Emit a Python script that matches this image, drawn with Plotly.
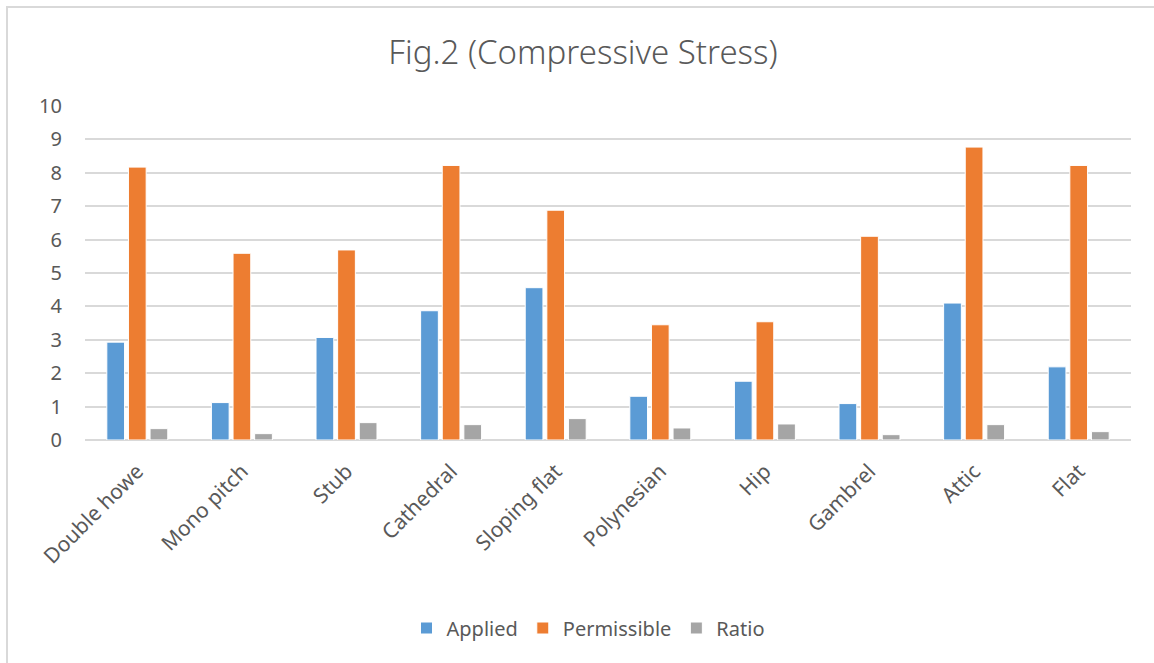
import plotly.graph_objects as go

# Roof truss types and their compressive stress values
categories = ["Double howe", "Mono pitch", "Stub", "Cathedral", "Sloping flat",
              "Polynesian", "Hip", "Gambrel", "Attic", "Flat"]
applied = [2.93, 1.12, 3.07, 3.87, 4.56, 1.31, 1.76, 1.09, 4.10, 2.19]
permissible = [8.17, 5.59, 5.69, 8.22, 6.88, 3.45, 3.54, 6.10, 8.77, 8.22]
ratio = [0.34, 0.19, 0.52, 0.46, 0.64, 0.36, 0.48, 0.16, 0.46, 0.25]
y_ticks = list(range(0, 11))

series = [
    ("Applied", applied, "#5b9bd5"),
    ("Permissible", permissible, "#ed7d31"),
    ("Ratio", ratio, "#a5a5a5"),
]

text_color = "#595959"
font_family = "Noto Sans, Open Sans, sans-serif"

fig = go.Figure()
for name, values, color in series:
    fig.add_trace(go.Bar(
        name=name, x=categories, y=values,
        marker=dict(color=color, line=dict(color="white", width=1)),
    ))

W, H = 1154, 663
ml, mr, mt, mb = 85, 23, 106, 223
pw, ph = W - ml - mr, H - mt - mb

# light outer frame of the chart area
fig.add_shape(
    type="rect", xref="paper", yref="paper",
    x0=(7 - ml) / pw, x1=(W + 10 - ml) / pw,
    y0=-(H + 10 - mt - ph) / ph, y1=(H - 7 - mb) / ph,
    line=dict(color="#d9d9d9", width=2), fillcolor="rgba(0,0,0,0)", layer="below",
)

fig.update_layout(
    width=W, height=H,
    margin=dict(l=ml, r=mr, t=mt, b=mb),
    paper_bgcolor="white", plot_bgcolor="white",
    barmode="group", bargap=0.38, bargroupgap=0.18,
    title=dict(text="Fig.2 (Compressive Stress)", x=(583 - ml) / pw, xref="paper",
               xanchor="center", y=1 - 52 / H, yanchor="middle",
               font=dict(family=font_family, size=33, weight=300, color=text_color)),
    font=dict(family=font_family, size=20, color=text_color),
    legend=dict(orientation="h", x=(588 - ml) / pw, xanchor="center",
                y=-(628 - mt - ph) / ph, yanchor="middle",
                font=dict(size=20, color=text_color), itemwidth=30,
                traceorder="normal"),
    showlegend=True,
)
fig.update_xaxes(
    tickangle=-45, showgrid=False, showline=False, zeroline=False, ticks="",
    ticklabelstandoff=14, tickfont=dict(size=21, color=text_color),
)
fig.update_yaxes(
    range=[0, 10], tickvals=y_ticks, showgrid=True, gridcolor="#d9d9d9", gridwidth=1.5,
    zeroline=True, zerolinecolor="#d9d9d9", zerolinewidth=1.5, showline=False,
    ticks="", ticklabelstandoff=22, tickfont=dict(size=20, color=text_color),
)

fig.write_html("out.html")
